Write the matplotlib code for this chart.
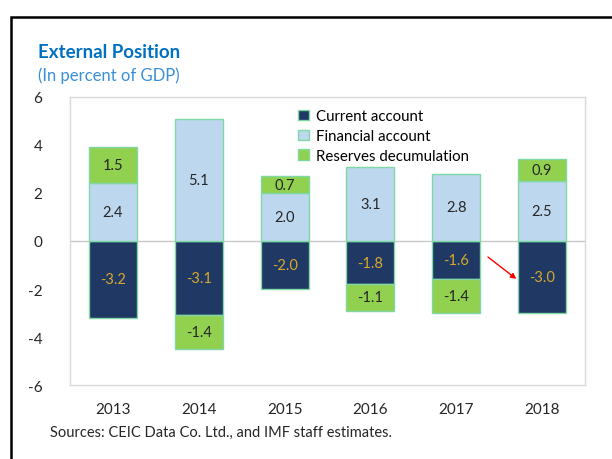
import matplotlib
matplotlib.use("Agg")
import matplotlib.pyplot as plt
from matplotlib.patches import Rectangle
import numpy as np

years = ["2013", "2014", "2015", "2016", "2017", "2018"]
current_account = [-3.2, -3.1, -2.0, -1.8, -1.6, -3.0]
financial_account = [2.4, 5.1, 2.0, 3.1, 2.8, 2.5]
reserves_decumulation = [1.5, -1.4, 0.7, -1.1, -1.4, 0.9]
yticks = [-6, -4, -2, 0, 2, 4, 6]

plt.rcParams['font.family'] = ['Lato', 'DejaVu Sans']

fig = plt.figure(figsize=(6.12, 4.6), dpi=100)
ax = fig.add_axes([70/612, 1-386/460, 515/612, 288/460])

series = [
    ("Current account", current_account, "#1f3864", "#d9a82a"),
    ("Financial account", financial_account, "#bdd7ee", "#262626"),
    ("Reserves decumulation", reserves_decumulation, "#92d050", "#262626"),
]
x = np.arange(len(years))
pos = np.zeros(len(years))
neg = np.zeros(len(years))
width = 0.56
for name, vals, color, tcolor in series:
    vals = np.array(vals)
    bottoms = np.where(vals >= 0, pos, neg)
    ax.bar(x, vals, width, bottom=bottoms, color=color,
           edgecolor="#7fd8a6", linewidth=1.0, label=name, zorder=3)
    for xi, b, v in zip(x, bottoms, vals):
        ax.text(xi, b + v/2, f"{v:.1f}", ha="center", va="center",
                fontsize=10.5, color=tcolor, zorder=4)
    pos = np.where(vals >= 0, pos + vals, pos)
    neg = np.where(vals < 0, neg + vals, neg)

ax.axhline(0, color="#c8c8c8", linewidth=1.0, zorder=1)
ax.set_xlim(-0.5, len(years) - 0.5)
ax.set_ylim(-6, 6)
ax.set_yticks(yticks)
ax.set_yticklabels([str(t) for t in yticks])
ax.set_xticks(x)
ax.set_xticklabels(years)
ax.tick_params(axis="both", length=0, labelsize=11, colors="#262626")
ax.tick_params(axis="y", pad=20)
ax.tick_params(axis="x", pad=12)
for s in ax.spines.values():
    s.set_color("#d9d9d9")
    s.set_linewidth(1.0)

ax.legend(loc="upper left", bbox_to_anchor=(0.432, 0.978), frameon=False,
          fontsize=10.8, handlelength=0.7, handleheight=0.7, handletextpad=0.45,
          labelspacing=0.38, borderaxespad=0)

ax.annotate("", xy=(4.70, -1.58), xytext=(4.37, -0.67),
            arrowprops=dict(arrowstyle="-|>", color="#ff0000", lw=1.0,
                            mutation_scale=8, shrinkA=0, shrinkB=0), zorder=5)

fig.text(38/612, 1-53/460, "External Position", fontsize=13.5, fontweight="bold",
         color="#0070c0", ha="left", va="center")
fig.text(38/612, 1-76/460, "(In percent of GDP)", fontsize=12,
         color="#3a8fd9", ha="left", va="center")
fig.text(50/612, 1-433/460, "Sources: CEIC Data Co. Ltd., and IMF staff estimates.",
         fontsize=10.5, color="#262626", ha="left", va="center")

fig.patches.append(Rectangle((11/612, -0.05), 1.1, 1 - 18/460 + 0.05,
                             transform=fig.transFigure, fill=False,
                             edgecolor="black", linewidth=1.8, zorder=10))

fig.savefig("out.png", dpi=100)
